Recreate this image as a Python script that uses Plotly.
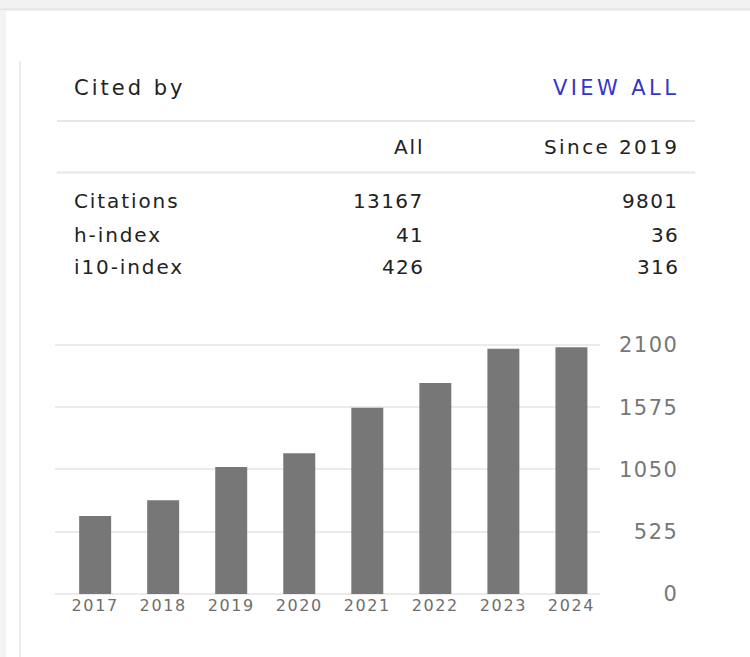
import plotly.graph_objects as go

# ---- data ----
years = ["2017", "2018", "2019", "2020", "2021", "2022", "2023", "2024"]
citations_per_year = [658, 790, 1072, 1188, 1570, 1780, 2068, 2081]
metric_names = ["Citations", "h-index", "i10-index"]
metric_all = ["13167", "41", "426"]
metric_since = ["9801", "36", "316"]
col_headers = ["All", "Since 2019"]
y_ticks = [0, 525, 1050, 1575, 2100]
y_tick_labels = ["0", "525", "1050", "1575", "2100"]

W, H = 750, 657
FONT = "DejaVu Sans"
FS = "\u2007"  # figure space (digit width) to right-align the tick labels


def px(x):
    return x / W


def py(y):
    return (H - y) / H


def spaced(t, ls):
    return f'<span style="letter-spacing:{ls}px">{t}</span>'


width_max = max(len(t) for t in y_tick_labels)
y_tick_text = [spaced(FS * (width_max - len(t)) + t, 1.5) for t in y_tick_labels]
x_tick_text = [spaced(t, 1.6) for t in years]

fig = go.Figure()
fig.add_trace(go.Bar(
    x=list(range(len(years))),
    y=citations_per_year,
    width=0.47,
    marker=dict(color="#777777", line=dict(width=0)),
    hoverinfo="skip",
    showlegend=False,
))

shapes = [
    # page shading at top and left
    dict(type="rect", xref="paper", yref="paper", x0=0, x1=1, y0=py(9), y1=1,
         fillcolor="#f2f2f2", line=dict(width=0), layer="below"),
    dict(type="line", xref="paper", yref="paper", x0=0, x1=1, y0=py(9.5), y1=py(9.5),
         line=dict(color="#e3e3e3", width=2), layer="below"),
    dict(type="rect", xref="paper", yref="paper", x0=0, x1=px(6), y0=0, y1=py(10),
         fillcolor="#f3f3f3", line=dict(width=0), layer="below"),
    dict(type="line", xref="paper", yref="paper", x0=px(20), x1=px(20), y0=0, y1=py(61),
         line=dict(color="#ececec", width=2), layer="below"),
    # table rules
    dict(type="line", xref="paper", yref="paper", x0=px(57), x1=px(695), y0=py(121), y1=py(121),
         line=dict(color="#e6e6e6", width=2), layer="below"),
    dict(type="line", xref="paper", yref="paper", x0=px(57), x1=px(695), y0=py(172.5), y1=py(172.5),
         line=dict(color="#e6e6e6", width=2), layer="below"),
]

TEXT = "#222222"
TS = 20
TLS = 1.9
annotations = [
    dict(text=spaced("Cited by", 3.0), x=px(72), y=py(88), xanchor="left", yanchor="middle",
         font=dict(family=FONT, size=21, color=TEXT)),
    dict(text=spaced("VIEW ALL", 3.4), x=px(681), y=py(88), xanchor="right", yanchor="middle",
         font=dict(family=FONT, size=21, color="#3535c8")),
    dict(text=spaced(col_headers[0], TLS), x=px(427), y=py(147.5), xanchor="right", yanchor="middle",
         font=dict(family=FONT, size=TS, color=TEXT)),
    dict(text=spaced(col_headers[1], 2.4), x=px(681), y=py(147.5), xanchor="right", yanchor="middle",
         font=dict(family=FONT, size=TS, color=TEXT)),
]
row_y = [201.5, 235, 267]
for name, a, s, yy in zip(metric_names, metric_all, metric_since, row_y):
    annotations.append(dict(text=spaced(name, TLS), x=px(72), y=py(yy), xanchor="left", yanchor="middle",
                            font=dict(family=FONT, size=TS, color=TEXT)))
    annotations.append(dict(text=spaced(a, 1.4), x=px(426), y=py(yy), xanchor="right", yanchor="middle",
                            font=dict(family=FONT, size=TS, color=TEXT)))
    annotations.append(dict(text=spaced(s, 1.4), x=px(681), y=py(yy), xanchor="right", yanchor="middle",
                            font=dict(family=FONT, size=TS, color=TEXT)))
for a in annotations:
    a.update(xref="paper", yref="paper", showarrow=False)

Y_MAX = 2120
fig.update_layout(
    template="none",
    width=W, height=H,
    margin=dict(l=0, r=0, t=0, b=0, autoexpand=False),
    paper_bgcolor="white", plot_bgcolor="white",
    shapes=shapes,
    annotations=annotations,
    xaxis=dict(
        domain=[px(55), px(600)],
        range=[-0.59, 7.42],
        tickmode="array", tickvals=list(range(len(years))), ticktext=x_tick_text,
        tickfont=dict(family=FONT, size=16, color="#6e6e6e"),
        showgrid=False, zeroline=False, showline=False, ticks="",
        automargin=False, fixedrange=True,
    ),
    yaxis=dict(
        domain=[py(594), py(594 - 249 * Y_MAX / 2100)],
        range=[0, Y_MAX],
        side="right", anchor="free", position=px(618),
        tickmode="array", tickvals=y_ticks, ticktext=y_tick_text,
        tickfont=dict(family=FONT, size=21, color="#777777"),
        showgrid=True, gridcolor="#ebebeb", gridwidth=1.5,
        zeroline=True, zerolinecolor="#ebebeb", zerolinewidth=1.5,
        showline=False, ticks="",
        automargin=False, fixedrange=True,
    ),
)

fig.write_html(
    "out.html",
    config={"displayModeBar": False},
    post_script="document.body.style.margin='0px';",
)
